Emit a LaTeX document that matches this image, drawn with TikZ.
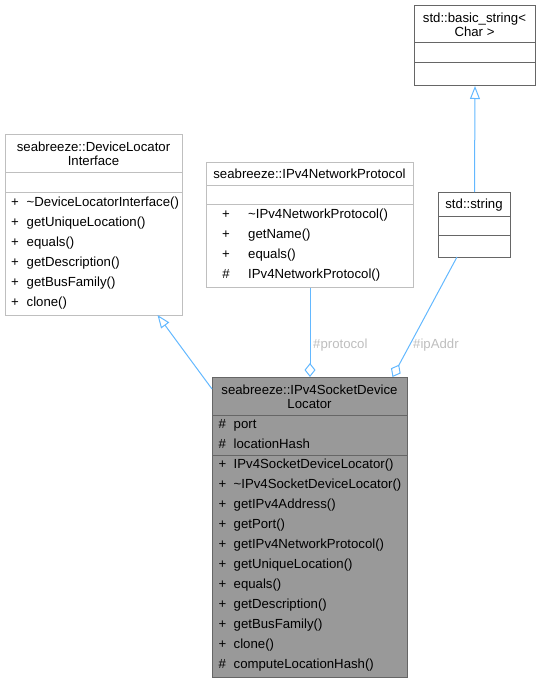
\documentclass[tikz,border=0pt]{standalone}
\usepackage{fontspec}
\setmainfont{Liberation Sans}
\usetikzlibrary{arrows.meta,calc}
\definecolor{edgeblue}{HTML}{63B8FF}
\definecolor{lightborder}{HTML}{BFBFBF}
\definecolor{darkborder}{HTML}{666666}
\definecolor{mainfill}{HTML}{999999}
\definecolor{labelgrey}{HTML}{BEBEBE}
\tikzset{
  lbox/.style={draw=lightborder, line width=1pt, fill=white, inner sep=0pt, anchor=north west},
  dbox/.style={draw=darkborder, line width=1pt, fill=white, inner sep=0pt, anchor=north west},
  sepl/.style={draw=lightborder, line width=1pt},
  sepd/.style={draw=darkborder, line width=1pt},
  txt/.style={inner sep=0pt, anchor=base west, font=\fontsize{13.2}{14}\selectfont},
  ctxt/.style={inner sep=0pt, anchor=base, font=\fontsize{13.2}{14}\selectfont},
  inherit/.style={draw=edgeblue, line width=1pt, -{Triangle[open, length=13pt, width=10pt]}},
  aggr/.style={draw=edgeblue, line width=1pt, -{Diamond[open, length=14pt, width=11pt]}},
  elabel/.style={txt, text=labelgrey},
}
\begin{document}
\begin{tikzpicture}[x=1pt,y=-1pt]
\useasboundingbox (0,0) rectangle (539,683);

% std::basic_string<Char>
\node[dbox, minimum width=121pt, minimum height=80pt] (bs) at (414,5) {};
\draw[sepd] (414,42) -- (535,42);
\draw[sepd] (414,62) -- (535,62);
\node[ctxt] (bst1) at (474.5,22.5) {std::basic\_string<};
\node[ctxt] (bst2) at (474.5,36.5) {Char >};

% std::string
\node[dbox, minimum width=72pt, minimum height=65pt] (str) at (438,192) {};
\draw[sepd] (438,216) -- (510,216);
\draw[sepd] (438,235) -- (510,235);
\node[ctxt] (strt) at (474,208.5) {std::string};

% DeviceLocatorInterface
\node[lbox, minimum width=177pt, minimum height=181pt] (dli) at (5,134) {};
\draw[sepl] (5,172) -- (182,172);
\draw[sepl] (5,192) -- (182,192);
\node[ctxt] (dlit1) at (93.5,151.5) {seabreeze::DeviceLocator};
\node[ctxt] (dlit2) at (93.5,165.5) {Interface};
\foreach [count=\i] \n in {\textasciitilde DeviceLocatorInterface(), getUniqueLocation(), equals(), getDescription(), getBusFamily(), clone()} {
  \node[txt] (dlis\i) at (11, {186+20*\i}) {+};
  \node[txt] (dlin\i) at (26.5, {186+20*\i}) {\n};
}

% IPv4NetworkProtocol
\node[lbox, minimum width=207pt, minimum height=125pt] (np) at (206,162) {};
\draw[sepl] (206,185) -- (413,185);
\draw[sepl] (206,204) -- (413,204);
\node[ctxt] (npt) at (309.5,178) {seabreeze::IPv4NetworkProtocol};
\foreach [count=\i] \s/\n in {+/\textasciitilde IPv4NetworkProtocol(), +/getName(), +/equals(), \#/IPv4NetworkProtocol()} {
  \node[ctxt] (nps\i) at (226, {198.5+20*\i}) {\s};
  \node[txt] (npn\i) at (248, {198.5+20*\i}) {\n};
}

% main class
\node[dbox, fill=mainfill, minimum width=195pt, minimum height=300pt] (main) at (212,377) {};
\draw[sepd] (212,415) -- (407,415);
\draw[sepd] (212,455) -- (407,455);
\node[ctxt] (mt1) at (309.5,394.5) {seabreeze::IPv4SocketDevice};
\node[ctxt] (mt2) at (309.5,408.5) {Locator};
\foreach [count=\i] \n in {port, locationHash} {
  \node[txt] (mas\i) at (218.5, {408.5+20*\i}) {\#};
  \node[txt] (man\i) at (233.5, {408.5+20*\i}) {\n};
}
\foreach [count=\i] \s/\n in {+/IPv4SocketDeviceLocator(), +/\textasciitilde IPv4SocketDeviceLocator(), +/getIPv4Address(), +/getPort(), +/getIPv4NetworkProtocol(), +/getUniqueLocation(), +/equals(), +/getDescription(), +/getBusFamily(), +/clone(), \#/computeLocationHash()} {
  \node[txt] (mms\i) at (218.5, {448.5+20*\i}) {\s};
  \node[txt] (mmn\i) at (233.5, {448.5+20*\i}) {\n};
}

% connectors
\coordinate (mainIn) at (212,389);
\coordinate (dliTip) at (157.5,315);
\draw[inherit] (mainIn) -- (dliTip);
\draw[aggr] (np.south) -- (main.north);
\coordinate (strOut) at (457,257);
\coordinate (mainIp) at (392.5,377);
\draw[aggr] (strOut) -- (mainIp);
\draw[inherit] (str.north) -- (bs.south);

\node[elabel] (lprot) at (313,348) {\#protocol};
\node[elabel] (lip) at (413,348) {\#ipAddr};
\end{tikzpicture}
\end{document}
